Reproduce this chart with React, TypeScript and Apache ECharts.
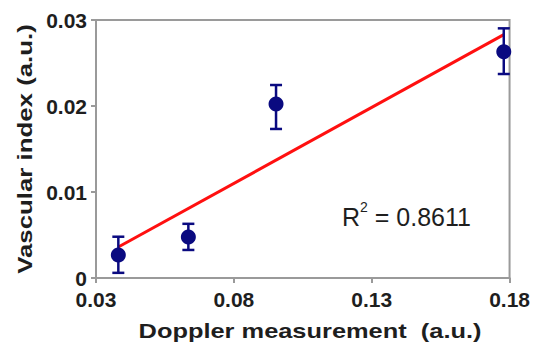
import React, { useEffect, useRef } from "react";
import * as echarts from "echarts";

const xValues = [0.0381, 0.0635, 0.0953, 0.1779];
const yValues = [0.00267, 0.00477, 0.02023, 0.02632];
const yLow = [0.0006, 0.00326, 0.01733, 0.02372];
const yHigh = [0.0048, 0.0063, 0.02244, 0.02903];
const fitLine = [
  [0.0381, 0.0036],
  [0.1779, 0.0283],
];
const xTicks = [0.03, 0.08, 0.13, 0.18];
const rSquared = "0.8611";
const xTitle = "Doppler measurement  (a.u.)";
const yTitle = "Vascular index (a.u.)";

const FONT = "'Liberation Sans', Arial, sans-serif";
const AXIS_COLOR = "#9a9a9a";
const DOT_COLOR = "#0a0a80";
const TEXT_COLOR = "#1e1e1e";

export default function App() {
  const ref = useRef<HTMLDivElement>(null);
  useEffect(() => {
    if (!ref.current) return;
    const chart = echarts.init(ref.current, null, { renderer: "svg" });
    const points = xValues.map((x, i) => [x, yValues[i]]);
    const errs = xValues.map((x, i) => [x, yLow[i], yHigh[i]]);
    chart.setOption({
      animation: false,
      backgroundColor: "#ffffff",
      grid: {
        left: 96,
        right: 12,
        top: 20,
        bottom: 65,
        show: true,
        borderColor: AXIS_COLOR,
        borderWidth: 2,
      },
      xAxis: {
        type: "value",
        min: 0.03,
        max: 0.18,
        axisLine: { show: true, lineStyle: { color: AXIS_COLOR, width: 2 } },
        axisTick: { show: true, length: 5, customValues: xTicks, lineStyle: { color: AXIS_COLOR, width: 2 } },
        axisLabel: {
          customValues: xTicks,
          margin: 11,
          fontFamily: FONT,
          fontSize: 21,
          fontWeight: "bold",
          color: TEXT_COLOR,
          formatter: (v: number) => v.toFixed(2),
        },
        splitLine: { show: false },
      },
      yAxis: {
        type: "value",
        min: 0,
        max: 0.03,
        interval: 0.01,
        axisLine: { show: true, lineStyle: { color: AXIS_COLOR, width: 2 } },
        axisTick: { show: true, length: 5, lineStyle: { color: AXIS_COLOR, width: 2 } },
        axisLabel: {
          margin: 9,
          fontFamily: FONT,
          fontSize: 21,
          fontWeight: "bold",
          color: TEXT_COLOR,
        },
        splitLine: { show: false },
      },
      series: [
        {
          type: "line",
          data: fitLine,
          symbol: "none",
          lineStyle: { color: "#ff1010", width: 3 },
          z: 2,
        },
        {
          type: "custom",
          data: errs,
          z: 3,
          renderItem: (params: any, api: any) => {
            const x = api.value(0);
            const lo = api.coord([x, api.value(1)]);
            const hi = api.coord([x, api.value(2)]);
            const hw = 6;
            const style = { stroke: DOT_COLOR, lineWidth: 2.5 };
            return {
              type: "group",
              children: [
                { type: "line", shape: { x1: lo[0], y1: lo[1], x2: hi[0], y2: hi[1] }, style },
                { type: "line", shape: { x1: lo[0] - hw, y1: lo[1], x2: lo[0] + hw, y2: lo[1] }, style },
                { type: "line", shape: { x1: hi[0] - hw, y1: hi[1], x2: hi[0] + hw, y2: hi[1] }, style },
              ],
            };
          },
        },
        {
          type: "scatter",
          data: points,
          symbol: "circle",
          symbolSize: 15,
          itemStyle: { color: DOT_COLOR, opacity: 1 },
          z: 4,
        },
      ],
      graphic: [
        {
          type: "text",
          x: 310,
          y: 331,
          scaleX: 1.21,
          style: {
            text: xTitle,
            x: 0,
            y: 0,
            align: "center",
            verticalAlign: "middle",
            fontFamily: FONT,
            fontSize: 21,
            fontWeight: "bold",
            fill: TEXT_COLOR,
          },
        },
        {
          type: "text",
          x: 25,
          y: 149,
          rotation: Math.PI / 2,
          scaleX: 1.23,
          style: {
            text: yTitle,
            x: 0,
            y: 0,
            align: "center",
            verticalAlign: "middle",
            fontFamily: FONT,
            fontSize: 21,
            fontWeight: "bold",
            fill: TEXT_COLOR,
          },
        },
        {
          type: "text",
          left: 342,
          top: 200,
          style: {
            text: "{r|R}{s|2}{r| = " + rSquared + "}",
            rich: {
              r: { fontFamily: FONT, fontSize: 25, fill: TEXT_COLOR, verticalAlign: "bottom", lineHeight: 29 },
              s: { fontFamily: FONT, fontSize: 14, fill: TEXT_COLOR, verticalAlign: "top", lineHeight: 29, padding: [0, 0, 14, 0] },
            },
          },
        },
      ],
    });
    return () => chart.dispose();
  }, []);
  return (
    <div
      ref={ref}
      style={{ position: "fixed", left: 0, top: 0, width: 533, height: 343 }}
    />
  );
}
